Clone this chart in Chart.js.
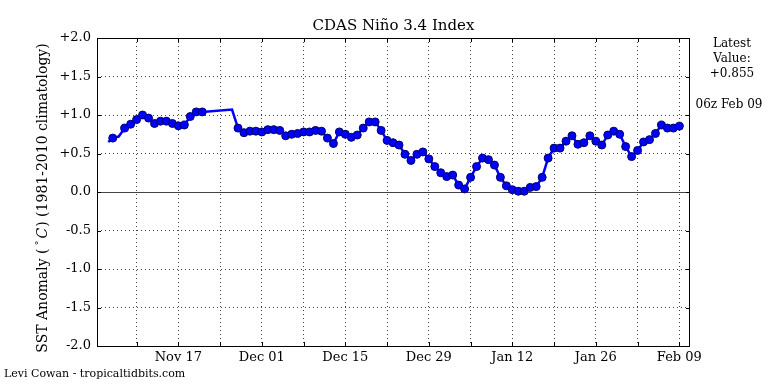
<!DOCTYPE html>
<html><head><meta charset="utf-8">
<script src="https://cdn.jsdelivr.net/npm/chart.js@4"></script>
<style>html,body{margin:0;padding:0;background:#fff}canvas{display:block}</style>
</head><body>
<canvas id="c" width="768" height="384"></canvas>
<script>
// days since Nov 17
const dayOffsets = [-11.75,-11,-10,-9,-8,-7,-6,-5,-4,-3,-2,-1,0,1,2,3,4,9,
  10,11,12,13,14,15,16,17,18,19,20,21,22,23,24,25,26,27,28,29,30,31,32,33,34,
  35,36,37,38,39,40,41,42,43,44,45,46,47,48,49,50,51,52,53,54,55,56,57,58,59,
  60,61,62,63,64,65,66,67,68,69,70,71,72,73,74,75,76,77,78,79,80,81,82,83,84];
const anomalies = [0.65,0.70,0.72,0.83,0.88,0.94,1.00,0.96,0.89,0.92,0.92,0.89,0.86,0.87,0.98,1.04,1.04,1.07,
  0.83,0.77,0.79,0.79,0.78,0.81,0.81,0.80,0.73,0.75,0.76,0.78,0.78,0.80,0.79,0.70,0.63,0.78,0.75,0.71,0.74,0.83,0.91,0.91,0.80,
  0.67,0.64,0.61,0.49,0.41,0.49,0.52,0.43,0.33,0.25,0.20,0.22,0.09,0.04,0.19,0.33,0.44,0.42,0.35,0.19,0.08,0.03,0.01,0.01,0.06,
  0.07,0.19,0.44,0.57,0.57,0.66,0.73,0.62,0.64,0.73,0.66,0.61,0.74,0.79,0.75,0.59,0.46,0.54,0.65,0.68,0.76,0.87,0.83,0.83,0.855];
const unmarkedDays = [-11.75, -10, 9];
const xTickDays = [0, 14, 28, 42, 56, 70, 84];
const xTickLabels = ['Nov 17', 'Dec 01', 'Dec 15', 'Dec 29', 'Jan 12', 'Jan 26', 'Feb 09'];
const xGridDays = [-7, 0, 7, 14, 21, 28, 35, 42, 49, 56, 63, 70, 77, 84];
const yTicks = [-2.0, -1.5, -1.0, -0.5, 0.0, 0.5, 1.0, 1.5, 2.0];
const titleText = 'CDAS Niño 3.4 Index';
const yTitleParts = ['SST Anomaly (', '°', 'C', ') (1981-2010 climatology)'];
const latestLines = ['Latest', 'Value:', '+0.855'];
const latestDate = '06z Feb 09';
const creditText = 'Levi Cowan - tropicaltidbits.com';

const FONT = "'DejaVu Serif', serif";
Chart.defaults.font.family = FONT;
Chart.defaults.color = '#000';

const points = dayOffsets.map((d, i) => ({x: d, y: anomalies[i]}));

function drawYTitle(ctx) {
  const segs = [
    {t: yTitleParts[0], f: '14px ' + FONT, dy: 0, pre: 0},
    {t: yTitleParts[1], f: '10px ' + FONT, dy: -4, pre: 3},
    {t: yTitleParts[2], f: 'italic 14px ' + FONT, dy: 0, pre: 2},
    {t: yTitleParts[3], f: '14px ' + FONT, dy: 0, pre: 1}
  ];
  let total = 0;
  segs.forEach(s => { ctx.font = s.f; s.w = ctx.measureText(s.t).width; total += s.pre + s.w; });
  ctx.save();
  ctx.translate(43, 198);
  ctx.rotate(-Math.PI / 2);
  ctx.textAlign = 'left';
  ctx.textBaseline = 'middle';
  let cx = -total / 2;
  segs.forEach(s => {
    cx += s.pre;
    ctx.font = s.f;
    ctx.fillText(s.t, cx, s.dy);
    cx += s.w;
  });
  ctx.restore();
}

const decor = {
  id: 'decor',
  beforeDatasetsDraw(chart) {
    const {ctx, chartArea: a, scales: {y}} = chart;
    const zy = Math.round(y.getPixelForValue(0)) + 0.5;
    ctx.save();
    ctx.strokeStyle = '#444';
    ctx.lineWidth = 1.2;
    ctx.beginPath(); ctx.moveTo(a.left, zy); ctx.lineTo(a.right, zy); ctx.stroke();
    ctx.restore();
  },
  afterDraw(chart) {
    const {ctx, chartArea: a, scales: {x, y}} = chart;
    ctx.save();
    ctx.strokeStyle = '#000';
    ctx.lineWidth = 1;
    ctx.strokeRect(a.left + 0.5, a.top + 0.5, a.right - a.left - 1, a.bottom - a.top);
    ctx.beginPath();
    xGridDays.forEach(d => {
      const px = Math.round(x.getPixelForValue(d)) + 0.5;
      ctx.moveTo(px, a.bottom); ctx.lineTo(px, a.bottom - 4);
      ctx.moveTo(px, a.top); ctx.lineTo(px, a.top + 4);
    });
    yTicks.forEach(v => {
      const py = Math.round(y.getPixelForValue(v)) + 0.5;
      ctx.moveTo(a.left, py); ctx.lineTo(a.left + 4, py);
      ctx.moveTo(a.right, py); ctx.lineTo(a.right - 4, py);
    });
    ctx.stroke();
    ctx.fillStyle = '#000';
    ctx.textBaseline = 'middle';
    ctx.textAlign = 'center';
    ctx.font = '15px ' + FONT;
    ctx.fillText(titleText, (a.left + a.right) / 2, 26);
    ctx.font = '12px ' + FONT;
    latestLines.forEach((t, i) => ctx.fillText(t, 732, 44 + i * 14.7));
    ctx.fillText(latestDate, 729, 105);
    ctx.textAlign = 'left';
    ctx.font = '11px ' + FONT;
    ctx.fillText(creditText, 4, 374);
    drawYTitle(ctx);
    ctx.restore();
  }
};

new Chart(document.getElementById('c'), {
  type: 'line',
  data: {
    datasets: [{
      data: points,
      borderColor: '#0000ff',
      borderWidth: 2.5,
      backgroundColor: '#0000ff',
      pointBackgroundColor: '#0000ff',
      pointBorderColor: '#00006a',
      pointBorderWidth: 1,
      pointRadius: ctx => (ctx.raw && unmarkedDays.includes(ctx.raw.x)) ? 0 : 4,
      tension: 0,
      fill: false
    }]
  },
  options: {
    responsive: false,
    devicePixelRatio: 1,
    animation: false,
    events: [],
    layout: {padding: {top: 38, right: 78, bottom: 0, left: 0}},
    plugins: {legend: {display: false}, title: {display: false}, tooltip: {enabled: false}},
    scales: {
      x: {
        type: 'linear',
        min: -13.64,
        max: 85.79,
        afterFit: s => { s.height = 38; },
        afterBuildTicks: s => { s.ticks = xGridDays.map(v => ({value: v})); },
        ticks: {
          autoSkip: false,
          maxRotation: 0,
          padding: 4,
          font: {size: 13},
          color: '#000',
          callback: v => { const i = xTickDays.indexOf(v); return i >= 0 ? xTickLabels[i] : ''; }
        },
        grid: {color: 'rgba(0,0,0,0.75)', lineWidth: 1, drawTicks: false},
        border: {display: false, dash: [1, 3]}
      },
      y: {
        type: 'linear',
        min: -2,
        max: 2,
        afterFit: s => { s.width = 97; },
        afterBuildTicks: s => { s.ticks = yTicks.map(v => ({value: v})); },
        ticks: {
          padding: 6,
          font: {size: 13},
          color: '#000',
          callback: v => (v > 0 ? '+' : '') + Number(v).toFixed(1)
        },
        grid: {
          color: c => (c.tick && (c.tick.value === 0 || Math.abs(c.tick.value) === 2)) ? 'rgba(0,0,0,0)' : 'rgba(0,0,0,0.75)',
          lineWidth: 1,
          drawTicks: false
        },
        border: {display: false, dash: [1, 3]}
      }
    }
  },
  plugins: [decor]
});
</script>
</body></html>
